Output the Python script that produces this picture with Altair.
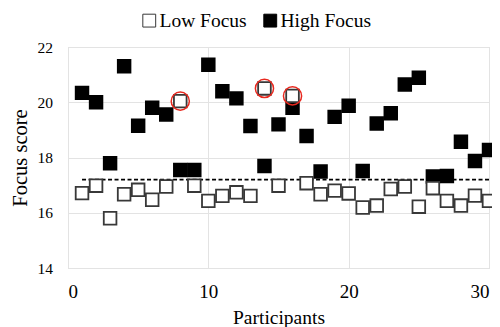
import altair as alt
import pandas as pd

participants = [1, 2, 3, 4, 5, 6, 7, 8, 9, 10, 11, 12, 13, 14, 15,
                16, 17, 18, 19, 20, 21, 22, 23, 24, 25, 26, 27, 28, 29, 30]
low_focus = [16.71, 16.98, 15.80, 16.67, 16.83, 16.47, 16.95, 20.04, 16.98, 16.43,
             16.61, 16.74, 16.61, 20.50, 16.98, 20.23, 17.07, 16.67, 16.80, 16.70,
             16.19, 16.26, 16.86, 16.95, 16.22, 16.89, 16.43, 16.26, 16.62, 16.43]
high_focus = [20.34, 20.00, 17.79, 21.30, 19.15, 19.80, 19.56, 17.55, 17.55, 21.36,
              20.40, 20.14, 19.14, 17.69, 19.20, 19.80, 18.78, 17.49, 19.47, 19.87,
              17.51, 19.23, 19.60, 20.64, 20.89, 17.31, 17.33, 18.57, 17.87, 18.27]
groups = ["Low Focus", "High Focus"]
threshold = 17.2
threshold_x = [1, 30]
highlight_x = [8, 14, 16]
highlight_y = [20.04, 20.50, 20.23]

rows = []
for p, v in zip(participants, high_focus):
    rows.append({"Participant": p, "Score": v, "Group": "High Focus"})
for p, v in zip(participants, low_focus):
    rows.append({"Participant": p, "Score": v, "Group": "Low Focus"})
df = pd.DataFrame(rows)

line_df = pd.DataFrame({"x": [threshold_x[0]], "x2": [threshold_x[1]], "y": [threshold]})
hl_df = pd.DataFrame({"Participant": highlight_x, "Score": highlight_y})

FONT = "Liberation Serif"

xscale = alt.Scale(domain=[0, 30], nice=False)
yscale = alt.Scale(domain=[14, 22], nice=False, zero=False)

legend = alt.Legend(title=None, orient="none", legendX=71.5, legendY=-36.5,
                    direction="horizontal", symbolType="square",
                    symbolSize=165, symbolStrokeWidth=1,
                    labelFont=FONT, labelFontSize=19.5, labelOffset=0.5,
                    columnPadding=13, padding=0)

points = alt.Chart(df).mark_point(shape="square", size=160, strokeWidth=1.8, opacity=1, filled=False).encode(
    x=alt.X("Participant:Q", scale=xscale,
            axis=alt.Axis(values=[0, 10, 20, 30], title="Participants",
                          labelFont=FONT, titleFont=FONT, labelFontSize=19,
                          labelPadding=14, titlePadding=7, titleFontSize=19.5)),
    y=alt.Y("Score:Q", scale=yscale,
            axis=alt.Axis(values=[14, 16, 18, 20, 22], title="Focus score",
                          labelFont=FONT, titleFont=FONT, labelFontSize=15.5,
                          labelPadding=15.5, titlePadding=7, titleFontSize=20.5)),
    fill=alt.Fill("Group:N", scale=alt.Scale(domain=groups, range=["white", "black"]),
                  legend=legend),
    stroke=alt.Stroke("Group:N", scale=alt.Scale(domain=groups, range=["#383838", "black"]),
                      legend=legend),
)

rule = alt.Chart(line_df).mark_rule(color="black", strokeWidth=1.6, strokeDash=[4, 2.5]).encode(
    x=alt.X("x:Q", scale=xscale), x2="x2:Q", y=alt.Y("y:Q", scale=yscale)
)

circles = alt.Chart(hl_df).mark_point(shape="circle", size=330, color="#e8281e",
                                      strokeWidth=1.5, filled=False, opacity=1).encode(
    x=alt.X("Participant:Q", scale=xscale), y=alt.Y("Score:Q", scale=yscale)
)

chart = alt.layer(rule, points, circles).properties(
    width=421, height=221,
    autosize=alt.AutoSizeParams(type="none"),
    padding={"left": 60, "top": 39, "right": 3, "bottom": 62},
).configure_view(stroke="#d9d9d9", strokeWidth=1).configure_axis(
    labelFont=FONT, titleFont=FONT, titleFontWeight="normal", labelColor="black",
    titleColor="black", grid=True, gridColor="#e3e3e3", gridWidth=1, domain=False, ticks=False
)

chart.save("out.html", embed_options={"renderer": "svg", "actions": False})
